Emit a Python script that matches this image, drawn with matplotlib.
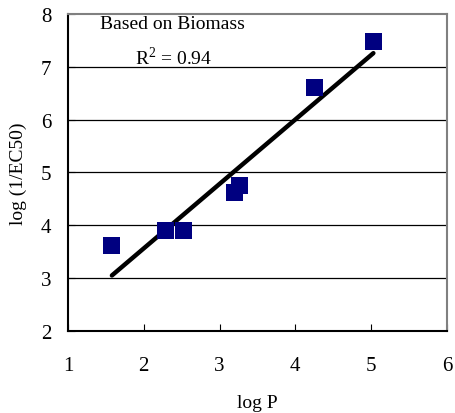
import numpy as np
import matplotlib
matplotlib.use("Agg")
import matplotlib.pyplot as plt

# data
log_p = [1.58, 2.29, 2.53, 3.20, 3.27, 4.25, 5.03]
log_inv_ec50 = [3.61, 3.90, 3.90, 4.63, 4.76, 6.61, 7.47]

x_ticks = [1, 2, 3, 4, 5, 6]
y_ticks = [2, 3, 4, 5, 6, 7, 8]

plt.rcParams['font.family'] = ['Liberation Serif', 'DejaVu Serif']
plt.rcParams['mathtext.fontset'] = 'custom'
plt.rcParams['mathtext.rm'] = 'Liberation Serif'

fig = plt.figure(figsize=(4.56, 4.14), dpi=100)
ax = fig.add_axes([0.149, 0.198, 0.831, 0.766])

# horizontal grid lines
for y in y_ticks[1:-1]:
    ax.axhline(y, color='black', linewidth=0.9, zorder=1)

# regression line
slope, intercept = np.polyfit(log_p, log_inv_ec50, 1)
xs = np.array([min(log_p), max(log_p)])
ax.plot(xs, slope * xs + intercept, color='black', linewidth=3.2,
        solid_capstyle='round', zorder=2)

ax.scatter(log_p, log_inv_ec50, marker='s', s=150, color='#000080',
           edgecolors='none', zorder=3)

ax.text(1.42, 7.81, 'Based on Biomass', fontsize=14, va='center', ha='left')
ax.text(1.88, 7.05, r'R$^\mathregular{2}$ = 0.94', fontsize=14,
        va='baseline', ha='left')

ax.set_xlim(1, 6)
ax.set_ylim(2, 8)
ax.set_xticks(x_ticks)
ax.set_yticks(y_ticks)
ax.tick_params(axis='both', direction='in', labelsize=15, length=5)
ax.tick_params(axis='y', pad=12)
ax.tick_params(axis='x', pad=18)

for s in ['left', 'bottom']:
    ax.spines[s].set_color('black')
    ax.spines[s].set_linewidth(1.5)
for s in ['top', 'right']:
    ax.spines[s].set_color('#808080')
    ax.spines[s].set_linewidth(1.5)

ax.set_xlabel('log P', fontsize=14, labelpad=14)
ax.set_ylabel('log (1/EC50)', fontsize=14, labelpad=10)

fig.savefig('out.png', dpi=100)
